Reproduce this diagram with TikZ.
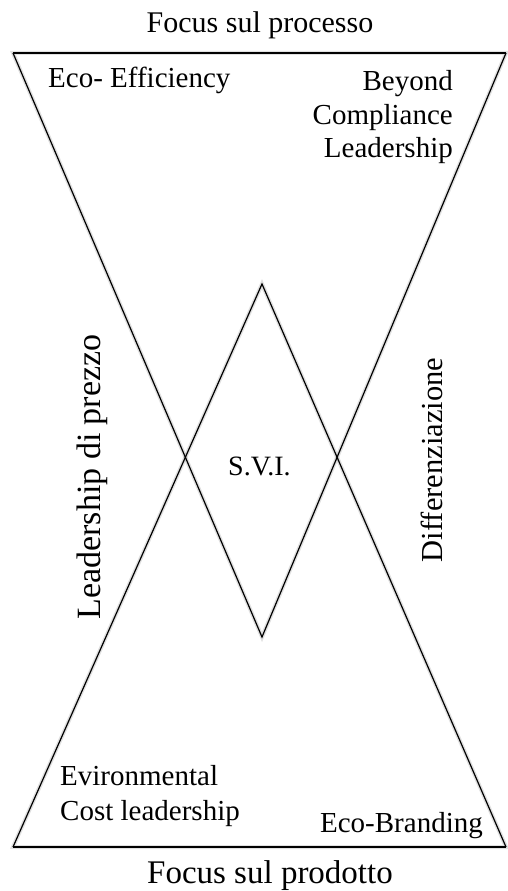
\documentclass[tikz,border=0pt]{standalone}
\usepackage{fontspec}
\setmainfont{Liberation Serif}
\begin{document}
\begin{tikzpicture}[x=1pt,y=-1pt,
  lbl/.style={inner sep=0pt,font=\fontsize{29}{33}\selectfont},
  edge/.style={draw=black,line width=1.2pt,line join=miter},
  base/.style={draw=black,line width=2pt},
  shade/.style={draw=black!35,line width=4pt,opacity=0.35}]
\useasboundingbox (0,0) rectangle (507,891);
% corner points
\coordinate (TL) at (13,53);
\coordinate (TR) at (506,53);
\coordinate (TA) at (262,637);
\coordinate (BL) at (13,847);
\coordinate (BR) at (506,847);
\coordinate (BA) at (262,284);
% soft shadows
\begin{scope}[shift={(2,3)}]
\draw[shade] (TL) -- (TR) -- (TA) -- cycle;
\draw[shade] (BL) -- (BR) -- (BA) -- cycle;
\end{scope}
% triangles
\draw[edge] (TR) -- (TA) -- (TL);
\draw[base] (TL) -- (TR);
\draw[edge] (BR) -- (BA) -- (BL);
\draw[base] (BL) -- (BR);
% labels
\node[lbl,anchor=base,font=\fontsize{30}{34}\selectfont] (top) at (260,33) {Focus sul processo};
\node[lbl,anchor=base,font=\fontsize{33}{36}\selectfont] (bot) at (270,883) {Focus sul prodotto};
\node[lbl,anchor=base west] (ee) at (48,88) {Eco- Efficiency};
\node[lbl,anchor=base east] (b1) at (453,90) {Beyond};
\node[lbl,anchor=base east] (b2) at (453,124) {Compliance};
\node[lbl,anchor=base east] (b3) at (453,157) {Leadership};
\node[lbl,anchor=base west] (e1) at (60,785) {Evironmental};
\node[lbl,anchor=base west] (e2) at (60,820) {Cost leadership};
\node[lbl,anchor=base east] (eb) at (483,832) {Eco-Branding};
\node[lbl,anchor=base west,font=\fontsize{28}{32}\selectfont] (svi) at (228,475) {S.V.I.};
\node[lbl,anchor=base,rotate=90,font=\fontsize{34}{38}\selectfont] (lp) at (100,477) {Leadership di prezzo};
\node[lbl,anchor=base,rotate=90,font=\fontsize{30.5}{34}\selectfont] (df) at (442,460) {Differenziazione};
\end{tikzpicture}
\end{document}
